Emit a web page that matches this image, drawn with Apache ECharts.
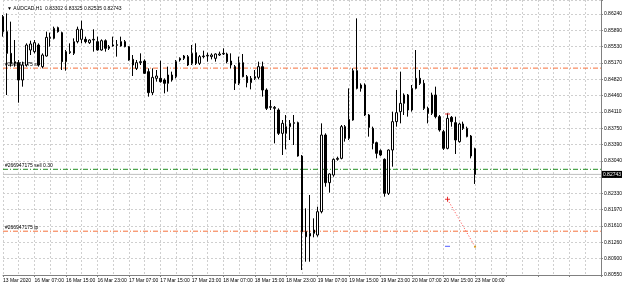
<!DOCTYPE html>
<html>
<head>
<meta charset="utf-8">
<script src="https://cdn.jsdelivr.net/npm/echarts@6/dist/echarts.min.js"></script>
<style>
  html, body { margin: 0; padding: 0; background: #ffffff; }
  #chart { width: 625px; height: 288px; }
</style>
</head>
<body>
<div id="chart"></div>
<script>
// AUDCAD H1 candles (index 0 = 13 Mar 22:00)
const opens = [
  0.86182, 0.85855, 0.85382, 0.85164, 0.85179, 0.84801, 0.85128, 0.85455, 0.85419, 0.85564,
  0.85092, 0.85324, 0.85709, 0.85709, 0.85942, 0.85833, 0.85201, 0.85397, 0.85382, 0.85637,
  0.85687, 0.85687, 0.85615, 0.85673, 0.85637, 0.85455, 0.85658, 0.85491, 0.85542, 0.85557,
  0.85637, 0.85637, 0.85528, 0.85251, 0.85055, 0.85179, 0.85215, 0.84983, 0.84525, 0.84837,
  0.84837, 0.84801, 0.84728, 0.84801, 0.84874, 0.85237, 0.85273, 0.85310, 0.85164, 0.85397,
  0.85164, 0.85310, 0.85324, 0.85310, 0.85273, 0.85346, 0.85368, 0.85368, 0.85215, 0.85092,
  0.84728, 0.85179, 0.84874, 0.84743, 0.84837, 0.84859, 0.85092, 0.84583, 0.84205, 0.84183,
  0.84147, 0.83638, 0.83638, 0.83784, 0.83856, 0.83871, 0.83144, 0.81494, 0.81400, 0.81458,
  0.81422, 0.81930, 0.83602, 0.82563, 0.82730, 0.83071, 0.83093, 0.83784, 0.83529, 0.83929,
  0.85004, 0.84619, 0.84692, 0.84038, 0.83747, 0.83435, 0.83260, 0.83071, 0.82330, 0.83275,
  0.83893, 0.84111, 0.84292, 0.84474, 0.84147, 0.84619, 0.84837, 0.84728, 0.84183, 0.84074,
  0.84474, 0.84002, 0.83675, 0.83311, 0.83987, 0.83871, 0.83457, 0.83842, 0.83566, 0.83580,
  0.83302
];
const highs = [
  0.86218, 0.86254, 0.86073, 0.85673, 0.85237, 0.85201, 0.85600, 0.85658, 0.85673, 0.85600,
  0.85382, 0.85855, 0.85833, 0.85964, 0.85964, 0.85855, 0.85455, 0.85600, 0.85709, 0.85964,
  0.86094, 0.85746, 0.85687, 0.85906, 0.85746, 0.85687, 0.85687, 0.85564, 0.85746, 0.85673,
  0.85746, 0.85673, 0.85542, 0.85346, 0.85237, 0.85382, 0.85251, 0.85055, 0.85055, 0.85019,
  0.85222, 0.84837, 0.85092, 0.84983, 0.85237, 0.85295, 0.85346, 0.85346, 0.85564, 0.85600,
  0.85346, 0.85440, 0.85397, 0.85382, 0.85382, 0.85419, 0.85491, 0.85397, 0.85382, 0.85128,
  0.85310, 0.85368, 0.84910, 0.84888, 0.85019, 0.85201, 0.85201, 0.84619, 0.84365, 0.84234,
  0.84183, 0.83929, 0.84038, 0.83929, 0.84038, 0.83893, 0.83166, 0.82003, 0.82294, 0.81785,
  0.82039, 0.83856, 0.83638, 0.82766, 0.83093, 0.83130, 0.83820, 0.83820, 0.84619, 0.85055,
  0.86145, 0.84728, 0.84728, 0.84060, 0.83784, 0.83457, 0.83289, 0.83093, 0.83289, 0.84111,
  0.84583, 0.84983, 0.84510, 0.84496, 0.84692, 0.85455, 0.85019, 0.84801, 0.84220, 0.84525,
  0.84656, 0.84038, 0.83711, 0.84074, 0.84016, 0.84002, 0.83871, 0.83893, 0.83784, 0.83602,
  0.83325
];
const lows = [
  0.85746, 0.84474, 0.85092, 0.85092, 0.84307, 0.84656, 0.85092, 0.85346, 0.85382, 0.85092,
  0.85055, 0.85310, 0.85528, 0.85687, 0.85833, 0.85019, 0.85004, 0.85368, 0.85346, 0.85600,
  0.85600, 0.85600, 0.85586, 0.85419, 0.85440, 0.85440, 0.85419, 0.85455, 0.85528, 0.85310,
  0.85528, 0.85513, 0.85222, 0.84888, 0.85019, 0.85128, 0.84932, 0.84438, 0.84474, 0.84765,
  0.84743, 0.84510, 0.84547, 0.84765, 0.84837, 0.85201, 0.85237, 0.85106, 0.85128, 0.85128,
  0.85128, 0.85273, 0.85201, 0.85251, 0.85201, 0.85324, 0.85346, 0.85164, 0.85055, 0.84583,
  0.84692, 0.84859, 0.84641, 0.84597, 0.84801, 0.84815, 0.84438, 0.84147, 0.84147, 0.83420,
  0.83602, 0.83166, 0.83289, 0.83493, 0.83384, 0.83130, 0.80659, 0.80840, 0.80840, 0.81371,
  0.81385, 0.81894, 0.82475, 0.82345, 0.82693, 0.83042, 0.83071, 0.83457, 0.83493, 0.83914,
  0.84597, 0.84547, 0.84016, 0.83566, 0.83289, 0.83093, 0.83144, 0.82257, 0.82294, 0.82911,
  0.83784, 0.83856, 0.84038, 0.84002, 0.84111, 0.84597, 0.84692, 0.84147, 0.83856, 0.84038,
  0.83965, 0.83675, 0.83275, 0.83289, 0.83784, 0.83188, 0.83435, 0.83711, 0.83551, 0.83093,
  0.82535
];
const closes = [
  0.85855, 0.85382, 0.85164, 0.85201, 0.84801, 0.85128, 0.85564, 0.85586, 0.85615, 0.85128,
  0.85346, 0.85731, 0.85731, 0.85927, 0.85855, 0.85201, 0.85419, 0.85419, 0.85637, 0.85906,
  0.85906, 0.85637, 0.85673, 0.85687, 0.85455, 0.85658, 0.85491, 0.85528, 0.85564, 0.85571,
  0.85542, 0.85528, 0.85237, 0.85128, 0.85179, 0.85201, 0.84946, 0.84525, 0.84859, 0.84888,
  0.84765, 0.84728, 0.84910, 0.84910, 0.85201, 0.85273, 0.85324, 0.85128, 0.85382, 0.85164,
  0.85310, 0.85324, 0.85339, 0.85346, 0.85368, 0.85368, 0.85382, 0.85201, 0.85128, 0.84728,
  0.85179, 0.84874, 0.84743, 0.84837, 0.84874, 0.85092, 0.84583, 0.84183, 0.84220, 0.84205,
  0.83638, 0.83856, 0.83784, 0.83856, 0.83871, 0.83144, 0.81494, 0.81385, 0.81458, 0.81531,
  0.81930, 0.83602, 0.82563, 0.82752, 0.83071, 0.83093, 0.83784, 0.83529, 0.83943, 0.85004,
  0.84619, 0.84692, 0.84038, 0.83769, 0.83420, 0.83202, 0.83166, 0.82330, 0.83275, 0.83893,
  0.84089, 0.84292, 0.84474, 0.84147, 0.84619, 0.84837, 0.84728, 0.84183, 0.84074, 0.84474,
  0.84002, 0.83711, 0.83311, 0.83965, 0.83893, 0.83493, 0.83842, 0.83747, 0.83747, 0.83144,
  0.82743
];

// time axis: one label every 8 bars
const timeLabels = [
  '13 Mar 2020', '16 Mar 07:00', '16 Mar 15:00', '16 Mar 23:00', '17 Mar 07:00',
  '17 Mar 15:00', '17 Mar 23:00', '18 Mar 07:00', '18 Mar 15:00', '18 Mar 23:00',
  '19 Mar 07:00', '19 Mar 15:00', '19 Mar 23:00', '20 Mar 07:00', '20 Mar 15:00',
  '23 Mar 00:00'
];
// price scale labels as shown by the terminal, bottom to top
const priceLabels = [
  '0.80550', '0.80900', '0.81260', '0.81610', '0.81970', '0.82330', '0.82690', '0.83040',
  '0.83390', '0.83750', '0.84110', '0.84460', '0.84820', '0.85170', '0.85530', '0.85890',
  '0.86240'
];

const slotCount = 153;  // bars that fit the window (incl. empty right shift)
const yMin = 0.80550;
const yMax = 0.86545;
const yStep = (0.86240 - 0.80550) / 16;

// order #266947175 levels
const slLevel = 0.85060;
const entryLevel = 0.82854;
const tpLevel = 0.81505;
const bidLevel = 0.82743;

// history trade marks
const tradeStart = [113, 0.82200];
const tradeEnd = [120, 0.81167];
const closeMark = [113, 0.81176];
const topMark = [113, 0.84060];

const categories = [];
for (let i = 0; i < slotCount; i++) categories.push('b' + i);

const candleData = opens.map((o, i) => [o, closes[i], lows[i], highs[i]]);

const FONT = 'Liberation Sans';
const DASHDOT = [5, 2, 1, 2];

// horizontal order line across the whole window, caption at its left end
function levelLine(level, color, text) {
  return {
    type: 'line',
    silent: true,
    z: 1,
    symbol: 'circle',
    symbolSize: 0.1,
    lineStyle: { color: color, width: 1, type: DASHDOT },
    itemStyle: { color: color },
    data: [
      { value: [0, level],
        label: { show: true, formatter: text, position: [2, -6], fontSize: 5, color: '#000', fontFamily: FONT } },
      [slotCount - 1, level]
    ]
  };
}

const chart = echarts.init(document.getElementById('chart'), null, { renderer: 'canvas' });
chart.setOption({
  animation: false,
  backgroundColor: '#ffffff',
  title: {
    text: '\u25BC AUDCAD,H1  0.83302 0.83325 0.82535 0.82743',
    left: 2,
    top: 1,
    textStyle: { fontSize: 5, fontWeight: 'normal', color: '#000', fontFamily: FONT }
  },
  grid: { left: 0, right: 21, top: 0, bottom: 13, containLabel: false },
  xAxis: {
    type: 'category',
    data: categories,
    boundaryGap: false,
    axisLine: { show: true, lineStyle: { color: '#808080', width: 1 } },
    axisTick: { show: true, interval: (i) => i % 8 === 0, length: 2, lineStyle: { color: '#808080' } },
    axisLabel: {
      interval: (i) => i % 8 === 0,
      formatter: (v, i) => timeLabels[i / 8] || '',
      showMinLabel: true,
      hideOverlap: false,
      align: 'left',
      fontSize: 5,
      color: '#000',
      margin: 3,
      fontFamily: FONT
    },
    splitLine: { show: true, interval: (i) => i % 4 === 0, lineStyle: { color: '#cfcfcf', width: 1, type: [2, 2] } }
  },
  yAxis: {
    type: 'value',
    position: 'right',
    scale: true,
    min: yMin,
    max: yMax,
    interval: yStep,
    axisLine: { show: true, lineStyle: { color: '#808080', width: 1 } },
    axisTick: { show: true, length: 2, lineStyle: { color: '#808080' } },
    axisLabel: {
      fontSize: 5,
      color: '#000',
      margin: 3,
      fontFamily: FONT,
      formatter: (v) => {
        const k = Math.round((v - yMin) / yStep);
        if (Math.abs(v - (yMin + k * yStep)) > 1e-7) return '';
        return priceLabels[k] || '';
      }
    },
    splitLine: { show: true, lineStyle: { color: '#cfcfcf', width: 1, type: [2, 2] } }
  },
  series: [
    levelLine(slLevel, '#f5703c', '#266947175 sl'),
    levelLine(entryLevel, '#218c21', '#266947175 sell 0.30'),
    levelLine(tpLevel, '#f5703c', '#266947175 tp'),
    {
      // bid line with price tag on the scale
      type: 'line',
      silent: true,
      z: 1,
      symbol: 'none',
      lineStyle: { color: '#c0c0c0', width: 1 },
      data: [[0, bidLevel], [slotCount - 1, bidLevel]],
      endLabel: {
        show: true, formatter: '0.82743', fontSize: 5, color: '#fff',
        backgroundColor: '#000', padding: [1, 1], distance: 1, fontFamily: FONT
      }
    },
    {
      type: 'candlestick',
      data: candleData,
      barWidth: 2,
      z: 3,
      itemStyle: {
        color: '#ffffff',
        color0: '#000000',
        borderColor: '#000000',
        borderColor0: '#000000',
        borderWidth: 1
      }
    },
    {
      type: 'line',
      data: [tradeStart, tradeEnd],
      symbol: 'none',
      silent: true,
      z: 4,
      lineStyle: { color: '#ff4040', width: 1, type: [1, 2] }
    },
    {
      type: 'scatter',
      data: [tradeStart],
      symbol: 'path://M2,0H3V2H5V3H3V5H2V3H0V2H2Z',
      symbolSize: 5,
      silent: true,
      z: 5,
      itemStyle: { color: '#e00000' }
    },
    {
      type: 'scatter',
      data: [closeMark],
      symbol: 'rect',
      symbolSize: [5, 1],
      silent: true,
      z: 5,
      itemStyle: { color: '#2030ff' }
    },
    {
      type: 'scatter',
      data: [topMark],
      symbol: 'rect',
      symbolSize: [5, 1],
      silent: true,
      z: 5,
      itemStyle: { color: '#e00000' }
    },
    {
      type: 'scatter',
      data: [tradeEnd],
      symbol: 'rect',
      symbolSize: 2,
      silent: true,
      z: 5,
      itemStyle: { color: '#d09000' }
    }
  ]
});
</script>
</body>
</html>
